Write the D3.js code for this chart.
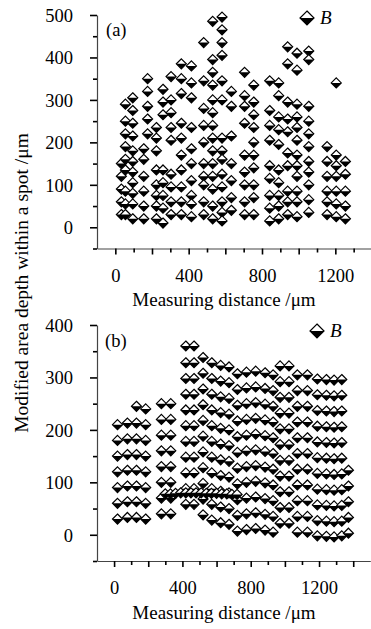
<!DOCTYPE html>
<html>
<head>
<meta charset="utf-8">
<script src="https://cdn.jsdelivr.net/npm/d3@7"></script>
<style>
  body { margin: 0; background: #fff; }
  text { font-family: 'Liberation Serif', 'DejaVu Serif', serif; fill: #000; }
</style>
</head>
<body>
<div id="chart"></div>
<script>
// panel (a): column x positions (µm) and depth values in each column
const aX = [33, 55, 95, 155, 176, 224, 260, 304, 360, 415, 482, 531, 582, 633, 705, 755, 842, 891, 940, 991, 1055, 1155, 1205, 1255]
const aY = [
  [150, 120, 90, 60, 30],
  [290, 250, 220, 190, 160, 135, 85, 55, 30],
  [305, 275, 245, 215, 180, 155, 130, 105, 80, 55, 20],
  [185, 160, 120, 85, 50, 20],
  [350, 320, 285, 255, 220],
  [235, 210, 180, 135, 100, 75, 50, 20],
  [325, 295, 265, 135, 105, 75, 45, 10],
  [355, 300, 270, 235, 205, 125, 95, 60, 30],
  [385, 350, 315, 245, 210, 170, 135, 95, 60, 30],
  [380, 340, 305, 235, 185, 150, 110, 75, 55, 25],
  [435, 345, 280, 240, 200, 150, 120, 100, 60, 30],
  [485, 395, 365, 335, 300, 270, 240, 210, 180, 150, 120, 90, 50, 20],
  [495, 465, 435, 405, 345, 300, 210, 180, 160, 125, 95, 60, 35, 15],
  [320, 285, 215, 150, 110, 70, 40],
  [365, 310, 285, 245, 170, 130, 100, 60, 30],
  [335, 295, 265, 235, 200, 170, 140, 100, 70, 30],
  [345, 275, 240, 205, 145, 115, 75, 45, 15],
  [340, 310, 260, 230, 195, 135, 105, 75, 50, 20],
  [425, 385, 295, 255, 225, 175, 145, 85, 60, 30],
  [410, 370, 290, 260, 235, 205, 170, 145, 120, 85, 60, 25],
  [415, 395, 285, 250, 220, 190, 155, 130, 100, 65, 35],
  [190, 155, 120, 85, 60, 30],
  [340, 170, 145, 120, 85, 55, 25],
  [155, 125, 85, 50, 20]
]

// panel (b)
const bX = [20, 78, 131, 185, 277, 332, 420, 468, 521, 572, 624, 673, 722, 775, 829, 884, 931, 972, 1024, 1073, 1132, 1190, 1243, 1288, 1333, 1372]
const bY = [
  [210, 180, 150, 120, 90, 60, 30],
  [213, 183, 153, 123, 93, 63, 33],
  [245, 213, 183, 153, 123, 93, 63, 33],
  [240, 210, 180, 150, 120, 90, 60, 30],
  [250, 220, 190, 160, 130, 100, 70, 40],
  [250, 220, 190, 160, 130, 100, 70, 40],
  [360, 328, 298, 268, 238, 208, 178, 148, 118, 88, 58],
  [360, 328, 298, 268, 238, 208, 178, 148, 118, 88, 58],
  [338, 308, 278, 248, 218, 188, 158, 128, 98, 68, 38],
  [328, 298, 268, 238, 208, 178, 148, 118, 88, 58, 28],
  [323, 293, 263, 233, 203, 173, 143, 113, 83, 53, 23],
  [320, 290, 260, 230, 200, 170, 140, 110, 80, 50, 20],
  [307, 277, 247, 217, 187, 157, 127, 97, 67, 37, 7],
  [310, 280, 250, 220, 190, 160, 130, 100, 70, 40, 10],
  [312, 282, 252, 222, 192, 162, 132, 102, 72, 42, 12],
  [309, 279, 249, 219, 189, 159, 129, 99, 69, 39, 9],
  [305, 275, 245, 215, 185, 155, 125, 95, 65, 35, 5],
  [322, 292, 262, 232, 202, 172, 142, 112, 82, 52, 22],
  [322, 292, 262, 232, 202, 172, 142, 112, 82, 52, 22],
  [305, 275, 245, 215, 185, 155, 125, 95, 65, 35, 5],
  [305, 275, 245, 215, 185, 155, 125, 95, 65, 35, 5],
  [297, 267, 237, 207, 177, 147, 117, 87, 57, 27, -2],
  [296, 266, 236, 206, 176, 146, 116, 86, 56, 26, -3],
  [295, 265, 235, 205, 175, 145, 115, 85, 55, 25, -4],
  [296, 266, 236, 206, 176, 146, 116, 86, 56, 26, -2],
  [123, 93, 63, 33, 3]
]
// the dense row of points near 80 µm in (b)
const bRowX = [300, 330, 360, 390, 420, 450, 480, 510, 540, 570, 600, 630, 660, 690, 720]
const bRowY = [78, 78, 79, 80, 80, 80, 80, 80, 79, 79, 79, 78, 78, 77, 77]

const xLabels = [0, 400, 800, 1200]
const seriesName = 'B'

const W = 371, H = 629

const svg = d3.select('#chart').append('svg')
  .attr('width', W)
  .attr('height', H)

// half filled diamond: white top, black bottom
function diamond(g, r) {
  g.append('path')
    .attr('d', `M0,${-r}L${r},0L0,${r}L${-r},0Z`)
    .attr('fill', '#fff')
    .attr('stroke', '#000')
    .attr('stroke-width', 1.2)
  g.append('path')
    .attr('d', `M${-r},0L${r},0L0,${r}Z`)
    .attr('fill', '#000')
}

function flatten(xs, ys) {
  const pts = []
  xs.forEach((x, i) => ys[i].forEach(y => pts.push({ x: x, y: y })))
  return pts
}

function panel(opts) {
  const x = d3.scaleLinear().domain(opts.xDomain).range(opts.xRange)
  const y = d3.scaleLinear().domain(opts.yDomain).range(opts.yRange)
  const g = svg.append('g')

  // y axis
  const yAxis = d3.axisLeft(y)
    .tickValues(d3.range(opts.yDomain[0], opts.yDomain[1] + 1, 50))
    .tickSize(0)
    .tickFormat('')
  const ya = g.append('g')
    .attr('transform', `translate(${opts.xRange[0]},0)`)
    .call(yAxis)
  ya.select('.domain').attr('stroke', '#444').attr('stroke-width', 1.2)
  ya.selectAll('.tick line')
    .attr('x2', d => (d % 100 === 0 ? -7 : -4))
    .attr('stroke', '#000')
    .attr('stroke-width', 1.6)
  ya.selectAll('.tick text')
    .filter(d => d % 100 === 0 && d >= 0)
    .text(d => d)
    .attr('x', -24)
    .attr('dy', '0.34em')
    .attr('font-size', 18.5)
    .attr('font-family', 'Liberation Serif')
    .attr('fill', '#000')

  // x axis
  const xAxis = d3.axisBottom(x)
    .tickValues(d3.range(0, opts.xMaxTick + 1, 100))
    .tickSize(0)
    .tickFormat('')
  const xa = g.append('g')
    .attr('transform', `translate(0,${opts.yRange[0]})`)
    .call(xAxis)
  xa.select('.domain').attr('stroke', '#444').attr('stroke-width', 1.2)
  xa.selectAll('.tick line')
    .attr('y2', d => (d % 200 === 0 ? 6 : 4))
    .attr('stroke', '#000')
    .attr('stroke-width', 1.6)
  xa.selectAll('.tick text')
    .filter(d => xLabels.includes(d))
    .text(d => d)
    .attr('y', opts.tickLabelDy)
    .attr('dy', 0)
    .attr('font-size', 18.5)
    .attr('font-family', 'Liberation Serif')
    .attr('fill', '#000')

  g.append('text')
    .attr('x', opts.titleX)
    .attr('y', opts.titleY)
    .attr('text-anchor', 'middle')
    .attr('font-size', 19)
    .text('Measuring distance /\u03bcm')

  g.append('text')
    .attr('x', opts.tagX)
    .attr('y', opts.tagY)
    .attr('font-size', 18.5)
    .text(opts.tag)

  // legend
  const lg = g.append('g').attr('transform', `translate(${opts.legX},${opts.legY})`)
  diamond(lg.append('g'), 7)
  lg.append('text')
    .attr('x', 13)
    .attr('y', 6)
    .attr('font-size', 19)
    .attr('font-style', 'italic')
    .text(seriesName)

  // points
  g.append('g').selectAll('g')
    .data(opts.points)
    .enter()
    .append('g')
    .attr('transform', d => `translate(${x(d.x)},${y(d.y)})`)
    .each(function () { diamond(d3.select(this), 5) })
}

panel({
  xDomain: [-100, 1400], xRange: [97, 372],
  yDomain: [-50, 500], yRange: [248.5, 15],
  xMaxTick: 1300,
  tickLabelDy: 33,
  titleX: 224, titleY: 306,
  tag: '(a)', tagX: 106, tagY: 36,
  legX: 307, legY: 18,
  points: flatten(aX, aY)
})

panel({
  xDomain: [-100, 1500], xRange: [97, 370.3],
  yDomain: [-50, 400], yRange: [561, 325],
  xMaxTick: 1400,
  tickLabelDy: 33,
  titleX: 224, titleY: 619,
  tag: '(b)', tagX: 105, tagY: 347,
  legX: 317, legY: 331,
  points: flatten(bX, bY).concat(bRowX.map((v, i) => ({ x: v, y: bRowY[i] })))
})

svg.append('text')
  .attr('transform', 'translate(28,283) rotate(-90)')
  .attr('text-anchor', 'middle')
  .attr('font-size', 19.5)
  .text('Modified area depth within a spot /\u03bcm')
</script>
</body>
</html>
